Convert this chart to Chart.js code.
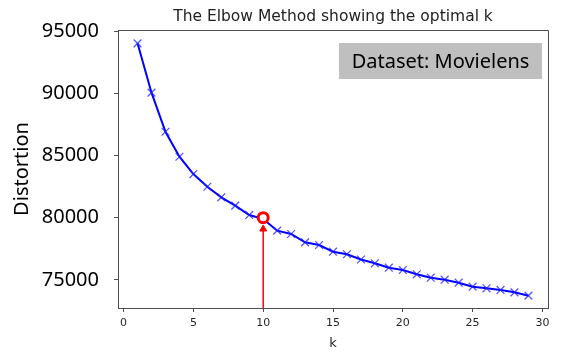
<!DOCTYPE html>
<html>
<head>
<meta charset="utf-8">
<script src="https://cdn.jsdelivr.net/npm/chart.js@4.4.1/dist/chart.umd.min.js"></script>
<style>
  body { margin: 0; background: #fff; }
  #wrap { width: 561px; height: 358px; }
</style>
</head>
<body>
<div id="wrap"><canvas id="elbow-chart" width="561" height="358"></canvas></div>
<script>
// k values and distortion
var kValues = [1, 2, 3, 4, 5, 6, 7, 8, 9, 10, 11, 12, 13, 14, 15,
               16, 17, 18, 19, 20, 21, 22, 23, 24, 25, 26, 27, 28, 29];
var distortions = [94020, 90050, 86910, 84900, 83510, 82490, 81640, 80965, 80220, 79900,
                   78955, 78690, 78020, 77805, 77265, 77060, 76640, 76335, 75980, 75795,
                   75450, 75175, 75015, 74775, 74455, 74325, 74190, 74000, 73730];
var xTicks = [0, 5, 10, 15, 20, 25, 30];
var yTicks = [75000, 80000, 85000, 90000, 95000];
var optimalK = 10;
var optimalValue = 80000;
var arrowTip = 79090;
var yMin = 72740, yMax = 95090;

var frameColor = "#4d4d4d";

// top + right spines and the dataset note box
var framePlugin = {
  id: "frame",
  afterDatasetsDraw: function(chart) {
    var a = chart.chartArea, ctx = chart.ctx;
    ctx.save();
    ctx.strokeStyle = frameColor;
    ctx.lineWidth = 1;
    ctx.beginPath();
    ctx.moveTo(a.left, a.top + 0.5);
    ctx.lineTo(a.right + 0.5, a.top + 0.5);
    ctx.lineTo(a.right + 0.5, a.bottom);
    ctx.stroke();
    // note box
    ctx.fillStyle = "#bfbfbf";
    ctx.fillRect(339, 43, 203, 36);
    ctx.fillStyle = "#000";
    ctx.font = "20px 'Noto Sans'";
    ctx.textAlign = "center";
    ctx.textBaseline = "middle";
    ctx.fillText("Dataset: Movielens", 440.5, 62);
    ctx.restore();
  }
};

new Chart("elbow-chart", {
  type: "line",
  data: {
    datasets: [{
      data: [{x: optimalK, y: optimalValue}],
      showLine: false,
      pointStyle: "circle",
      pointRadius: 5,
      borderWidth: 3,
      borderColor: "#ff0000",
      backgroundColor: "#ffffff",
      order: 0
    }, {
      data: kValues.map(function(k, i) { return {x: k, y: distortions[i]}; }),
      borderColor: "#0000ff",
      borderWidth: 2,
      pointStyle: "crossRot",
      pointRadius: 5.5,
      pointBorderWidth: 1.3,
      pointBorderColor: "rgba(30,30,255,0.75)",
      tension: 0,
      order: 1
    }, {
      data: [{x: optimalK, y: yMin}, {x: optimalK, y: arrowTip}],
      borderColor: "#ff0000",
      borderWidth: 1.5,
      pointStyle: "triangle",
      pointRadius: [0, 4],
      pointBorderWidth: 1,
      pointBackgroundColor: "#ff0000",
      pointBorderColor: "#ff0000",
      order: 2
    }]
  },
  options: {
    responsive: false,
    animation: false,
    devicePixelRatio: 1,
    layout: {padding: {left: 0, right: 13, top: 0, bottom: 0}},
    plugins: {
      legend: {display: false},
      tooltip: {enabled: false},
      title: {
        display: true,
        fullSize: false,
        text: "The Elbow Method showing the optimal k",
        color: "#222",
        font: {family: "'DejaVu Sans'", size: 15.5, weight: "normal"},
        padding: {top: 8, bottom: 3.4}
      }
    },
    scales: {
      x: {
        type: "linear",
        min: -0.4,
        max: 30.4,
        afterBuildTicks: function(axis) { axis.ticks = xTicks.map(function(v) { return {value: v}; }); },
        afterFit: function(axis) { axis.height = 50; },
        border: {color: frameColor, width: 1},
        grid: {drawOnChartArea: false, tickLength: 4, color: frameColor},
        ticks: {color: "#262626", padding: 5, font: {family: "'DejaVu Sans'", size: 11}},
        title: {display: true, text: "k", color: "#262626",
                font: {family: "'DejaVu Sans'", size: 13}, padding: {top: 0, bottom: 7}}
      },
      y: {
        min: yMin,
        max: yMax,
        afterBuildTicks: function(axis) { axis.ticks = yTicks.map(function(v) { return {value: v}; }); },
        afterFit: function(axis) { axis.width = 118; },
        border: {color: frameColor, width: 1},
        grid: {drawOnChartArea: false, tickLength: 4, color: frameColor},
        ticks: {color: "#000", padding: 15, font: {family: "'Noto Sans'", size: 20},
                callback: function(v) { return String(v); }},
        title: {display: true, text: "Distortion", color: "#000",
                font: {family: "'Noto Sans'", size: 20}, padding: {top: 10, bottom: 0}}
      }
    }
  },
  plugins: [framePlugin]
});
</script>
</body>
</html>
